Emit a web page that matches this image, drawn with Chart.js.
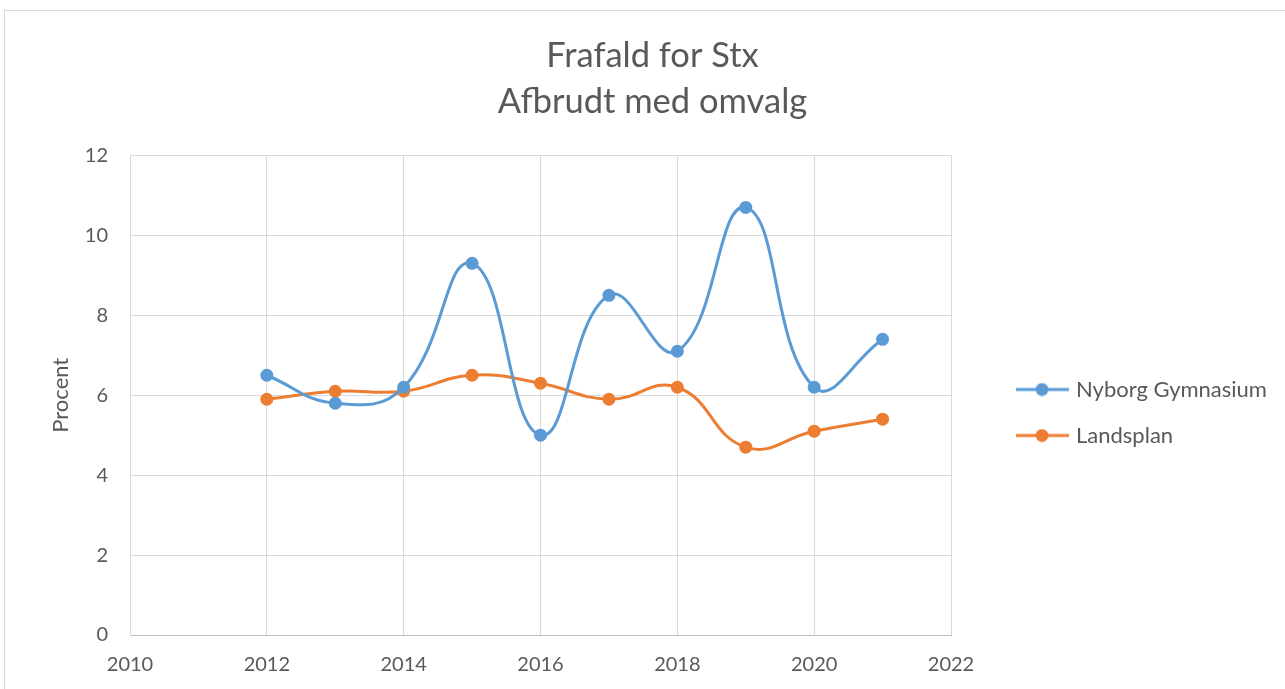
<!DOCTYPE html>
<html>
<head>
<meta charset="utf-8">
<script src="https://cdn.jsdelivr.net/npm/chart.js@4.4.1/dist/chart.umd.min.js"></script>
<style>
  html, body { margin: 0; padding: 0; background: #fff; overflow: hidden; }
  #frame { position: absolute; left: 4px; top: 10px; width: 1300px; height: 700px; border: 1px solid #d9d9d9; }
  #wrap { position: absolute; left: 0; top: 0; width: 1285px; height: 689px; }
</style>
</head>
<body>
<div id="frame"></div>
<div id="wrap"><canvas id="chart" width="1285" height="689"></canvas></div>
<script>
// data
const years = [2012, 2013, 2014, 2015, 2016, 2017, 2018, 2019, 2020, 2021];
const nyborg = [6.5, 5.8, 6.2, 9.3, 5.0, 8.5, 7.1, 10.7, 6.2, 7.4];
const landsplan = [5.9, 6.1, 6.1, 6.5, 6.3, 5.9, 6.2, 4.7, 5.1, 5.4];
const seriesNames = ['Nyborg Gymnasium', 'Landsplan'];
const titleLines = ['Frafald for Stx', 'Afbrudt med omvalg'];
const yTitle = 'Procent';

const BLUE = '#5b9bd5';
const ORANGE = '#ed7d31';
const TEXT = '#595959';
const GRID = '#d9d9d9';
const FONT = 'Lato';

// line + dot marker like Excel's legend
function legendMarker(color) {
  const c = document.createElement('canvas');
  c.width = 98;
  c.height = 14;
  const g = c.getContext('2d');
  g.strokeStyle = color;
  g.lineWidth = 3;
  g.beginPath();
  g.moveTo(45, 7);
  g.lineTo(98, 7);
  g.stroke();
  g.fillStyle = color;
  g.beginPath();
  g.arc(71, 7, 6.5, 0, Math.PI * 2);
  g.fill();
  return c;
}

const toPoints = (vals) => vals.map((v, i) => ({ x: years[i], y: v }));

const fixedLegend = {
  id: 'fixedLegend',
  beforeInit(chart) {
    const fit = chart.legend.fit;
    chart.legend.fit = function () {
      fit.call(this);
      this.width = 334;
    };
  },
  afterLayout(chart) {
    // Excel sits the legend a bit below the middle, and centres the title on the frame
    chart.legend.top += 68;
    chart.legend.bottom += 68;
    chart.titleBlock.left += 20;
  }
};

new Chart(document.getElementById('chart'), {
  type: 'line',
  data: {
    datasets: [
      {
        label: seriesNames[0],
        data: toPoints(nyborg),
        borderColor: BLUE,
        backgroundColor: BLUE,
        borderWidth: 3,
        pointRadius: 6.5,
        pointBorderWidth: 0,
        tension: 0.45
      },
      {
        label: seriesNames[1],
        data: toPoints(landsplan),
        borderColor: ORANGE,
        backgroundColor: ORANGE,
        borderWidth: 3,
        pointRadius: 6.5,
        pointBorderWidth: 0,
        tension: 0.45
      }
    ]
  },
  options: {
    responsive: false,
    animation: false,
    layout: { padding: 0 },
    plugins: {
      title: {
        display: true,
        text: titleLines,
        color: TEXT,
        font: { family: FONT, size: 34.5, weight: 'normal', lineHeight: 1.34 },
        padding: { top: 33, bottom: 30 }
      },
      legend: {
        display: true,
        position: 'right',
        labels: {
          color: TEXT,
          font: { family: FONT, size: 22 },
          usePointStyle: true,
          pointStyleWidth: 90,
          padding: 24,
          generateLabels(chart) {
            return chart.data.datasets.map((ds, i) => ({
              text: ds.label,
              pointStyle: legendMarker(ds.borderColor),
              fillStyle: ds.borderColor,
              strokeStyle: ds.borderColor,
              fontColor: TEXT,
              lineWidth: 0,
              hidden: false,
              datasetIndex: i
            }));
          }
        }
      },
      tooltip: { enabled: false }
    },
    scales: {
      x: {
        type: 'linear',
        min: 2010,
        max: 2022,
        afterFit(scale) { scale.height = 54; },
        ticks: {
          stepSize: 2,
          color: TEXT,
          font: { family: FONT, size: 20 },
          padding: 18,
          callback: (v) => String(v)
        },
        grid: { color: GRID, lineWidth: 1, drawTicks: false },
        border: { color: '#bfbfbf', width: 1 }
      },
      y: {
        min: 0,
        max: 12,
        afterFit(scale) { scale.width = 130; },
        ticks: {
          stepSize: 2,
          color: TEXT,
          font: { family: FONT, size: 20 },
          padding: 22
        },
        grid: { color: GRID, lineWidth: 1, drawTicks: false },
        border: { color: GRID, width: 1 },
        title: {
          display: true,
          text: yTitle,
          color: TEXT,
          font: { family: FONT, size: 22 },
          padding: { top: 48, bottom: 0 }
        }
      }
    }
  },
  plugins: [fixedLegend]
});
</script>
</body>
</html>
